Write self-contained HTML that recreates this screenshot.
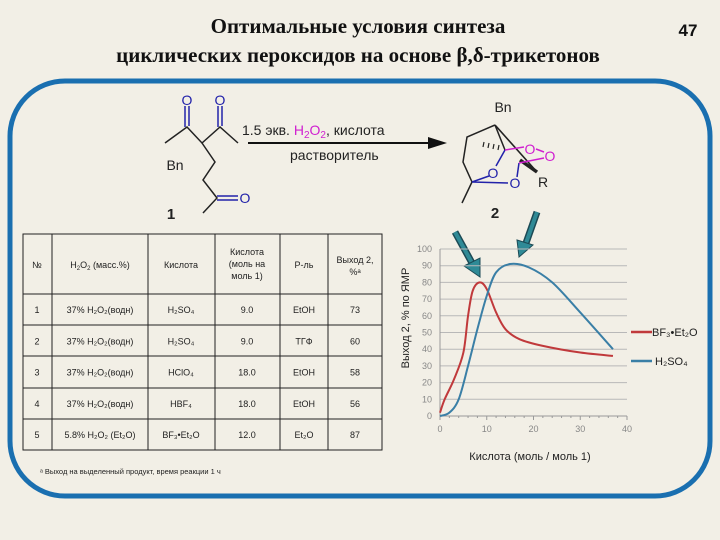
<!DOCTYPE html>
<html><head><meta charset="utf-8"><style>
html,body{margin:0;padding:0;background:#f2efe6;}
svg{display:block;font-family:"Liberation Sans",sans-serif;}
</style></head><body>
<svg id="s" width="720" height="540" viewBox="0 0 720 540">
<rect width="720" height="540" fill="#f2efe6"/>
<g font-family="Liberation Serif,serif" font-weight="bold" font-size="21" fill="#111" text-anchor="middle">
<text x="358" y="33">Оптимальные условия синтеза</text>
<text x="358" y="62">циклических пероксидов на основе β,δ-трикетонов</text>
</g>
<text x="688" y="36" font-family="Liberation Sans,sans-serif" font-weight="bold" font-size="17" text-anchor="middle" fill="#111">47</text>
<rect x="10" y="81" width="700" height="415" rx="55" fill="none" stroke="#1a6fb0" stroke-width="5"/>

<!-- compound 1 -->
<g stroke="#222" stroke-width="1.5" fill="none">
<line x1="185" y1="106" x2="185" y2="127" stroke="#2222aa"/><line x1="189" y1="106" x2="189" y2="126" stroke="#2222aa"/>
<line x1="218" y1="106" x2="218" y2="127" stroke="#2222aa"/><line x1="222" y1="106" x2="222" y2="126" stroke="#2222aa"/>
<polyline points="165,143 187,127 202,143 220,127 238,143"/>
<polyline points="202,143 215,162 203,180 217,198 203,213"/>
<line x1="217" y1="196" x2="238" y2="196" stroke="#2222aa"/><line x1="217" y1="200" x2="238" y2="200" stroke="#2222aa"/>
</g>
<g font-size="14" fill="#2222aa" text-anchor="middle">
<text x="187" y="105">O</text><text x="220" y="105">O</text><text x="245" y="203">O</text>
</g>
<text x="175" y="170" font-size="14" fill="#222" text-anchor="middle">Bn</text>
<text x="171" y="219" font-size="15" font-weight="bold" fill="#222" text-anchor="middle">1</text>

<!-- reaction arrow -->
<line x1="248" y1="143" x2="432" y2="143" stroke="#111" stroke-width="2"/>
<polygon points="447,143 428,137 428,149" fill="#111"/>
<text x="242" y="135" font-size="14" fill="#222">1.5 экв. <tspan fill="#d020d0">H<tspan font-size="10" dy="3">2</tspan><tspan dy="-3">O</tspan><tspan font-size="10" dy="3">2</tspan></tspan><tspan dy="-3">,  кислота</tspan></text>
<text x="290" y="160" font-size="14" fill="#222">растворитель</text>

<!-- compound 2 -->
<g stroke="#222" stroke-width="1.5" fill="none">
<polyline points="495,125 467,137 463,162 472,182 462,203"/>
<line x1="495" y1="125" x2="537" y2="172" stroke-width="1.6"/>
<line x1="520" y1="160" x2="537" y2="172" stroke-width="3.5"/>
<line x1="495" y1="125" x2="505" y2="150"/>
<g stroke-width="1.2"><line x1="484" y1="142" x2="483" y2="147"/><line x1="489" y1="143" x2="488" y2="148"/><line x1="494" y1="144" x2="493" y2="149"/><line x1="499" y1="145" x2="498" y2="150"/></g>
<line x1="505" y1="150" x2="496" y2="166" stroke="#2222aa"/>
<line x1="489" y1="176" x2="472" y2="182" stroke="#2222aa"/>
<line x1="472" y1="182" x2="508" y2="183" stroke="#2222aa"/>
<line x1="517" y1="177" x2="519" y2="163" stroke="#2222aa"/>
<line x1="505" y1="150" x2="524" y2="147" stroke="#d020d0"/>
<line x1="536" y1="149" x2="544" y2="152" stroke="#d020d0"/>
<line x1="519" y1="163" x2="544" y2="158" stroke="#d020d0"/>
</g>
<text x="503" y="112" font-size="14" fill="#222" text-anchor="middle">Bn</text>
<g font-size="14" text-anchor="middle">
<text x="530" y="154" fill="#d020d0">O</text><text x="550" y="161" fill="#d020d0">O</text>
<text x="493" y="178" fill="#2222aa">O</text><text x="515" y="188" fill="#2222aa">O</text>
<text x="543" y="187" fill="#222">R</text>
</g>
<text x="495" y="218" font-size="15" font-weight="bold" fill="#222" text-anchor="middle">2</text>

<!-- table -->
<g font-size="9" fill="#222" text-anchor="middle">
<rect x="23" y="234" width="359" height="216" fill="none" stroke="#222" stroke-width="1"/>
<g stroke="#222" stroke-width="1">
<line x1="52" y1="234" x2="52" y2="450"/><line x1="148" y1="234" x2="148" y2="450"/><line x1="215" y1="234" x2="215" y2="450"/><line x1="280" y1="234" x2="280" y2="450"/><line x1="328" y1="234" x2="328" y2="450"/>
<line x1="23" y1="294" x2="382" y2="294"/><line x1="23" y1="325" x2="382" y2="325"/><line x1="23" y1="356" x2="382" y2="356"/><line x1="23" y1="388" x2="382" y2="388"/><line x1="23" y1="419" x2="382" y2="419"/>
</g>
<text x="37" y="268">№</text><text x="100" y="268">H<tspan font-size="6" dy="2">2</tspan><tspan dy="-2">O</tspan><tspan font-size="6" dy="2">2</tspan><tspan dy="-2"> (масс.%)</tspan></text>
<text x="181" y="268">Кислота</text>
<text x="247" y="255">Кислота</text><text x="247" y="267">(моль на</text><text x="247" y="279">моль 1)</text>
<text x="304" y="268">Р-ль</text><text x="355" y="263">Выход 2,</text><text x="355" y="275">%ᵃ</text>
</g>
<g id="tbody" font-size="9" fill="#222" text-anchor="middle"></g>
<text x="40" y="474" font-size="7.5" fill="#222">ᵃ Выход на выделенный продукт, время реакции 1 ч</text>

<!-- pointer arrows -->
<g>
<line x1="455" y1="232" x2="472" y2="263" stroke="#1c4a55" stroke-width="7"/>
<line x1="455" y1="232" x2="472" y2="263" stroke="#2f8a96" stroke-width="4"/>
<polygon points="480,277 464,266 480,258" fill="#2f8a96" stroke="#1c4a55"/>
<line x1="537" y1="212" x2="526" y2="243" stroke="#1c4a55" stroke-width="7"/>
<line x1="537" y1="212" x2="526" y2="243" stroke="#2f8a96" stroke-width="4"/>
<polygon points="519,257 517,240 533,245" fill="#2f8a96" stroke="#1c4a55"/>
</g>

<g id="chart"></g>
</svg>
<script>
const xs=[0,1,3,5,6,7,8.5,10,12,14,17,22,30,37];
const redY=[2,10,22,38,60,75,80,76,62,52,46,42,38,36];
const blueX=[0,2,4,6,8,10,12,15,19,24,30,37];
const blueY=[0,2,10,30,52,72,86,91,89,80,62,40];
const yTicks=[0,10,20,30,40,50,60,70,80,90,100];
const xTicks=[0,10,20,30,40];
const rows=[["1","37% H₂O₂(водн)","H₂SO₄","9.0","EtOH","73"],["2","37% H₂O₂(водн)","H₂SO₄","9.0","ТГФ","60"],["3","37% H₂O₂(водн)","HClO₄","18.0","EtOH","58"],["4","37% H₂O₂(водн)","HBF₄","18.0","EtOH","56"],["5","5.8% H₂O₂ (Et₂O)","BF₃•Et₂O","12.0","Et₂O","87"]];
const NS="http://www.w3.org/2000/svg";
function mk(t,a,p){const e=document.createElementNS(NS,t);for(const k in a)e.setAttribute(k,a[k]);p.appendChild(e);return e;}
const tb=document.getElementById('tbody');
const cx=[37,100,181,247,304,355];
rows.forEach((r,i)=>{r.forEach((c,j)=>{const t=mk('text',{x:cx[j],y:313+i*31.3},tb);t.textContent=c;

});});
const g=document.getElementById('chart');
const X=v=>440+v*(627-440)/40, Y=v=>416-v*(416-249)/100;
yTicks.forEach(v=>{
 if(v>0){const l=mk('line',{x1:X(0),x2:X(40),y1:Y(v),y2:Y(v),stroke:'#b8b8b8','stroke-width':1},g);
 
 }
 const t=mk('text',{x:432,y:Y(v)+3,'font-size':9,fill:'#888','text-anchor':'end'},g);t.textContent=v;
 
 
});
const ax=mk('line',{x1:X(0),x2:X(40),y1:Y(0),y2:Y(0),stroke:'#999'},g);


const ay=mk('line',{x1:X(0),x2:X(0),y1:Y(0),y2:Y(100),stroke:'#999'},g);


for(let v=0;v<=40;v+=2){mk('line',{x1:X(v),x2:X(v),y1:Y(0),y2:Y(0)+(v%10?2:4),stroke:'#999'},g);}
xTicks.forEach(v=>{const t=mk('text',{x:X(v),y:432,'font-size':9,fill:'#888','text-anchor':'middle'},g);t.textContent=v;
 
 });
function path(xa,ya){const p=xa.map((x,i)=>[X(x),Y(ya[i])]);let d='M'+p[0];
 for(let i=0;i<p.length-1;i++){const p0=p[i-1]||p[i],p1=p[i],p2=p[i+1],p3=p[i+2]||p2;
 d+='C'+(p1[0]+(p2[0]-p0[0])/6)+','+(p1[1]+(p2[1]-p0[1])/6)+' '+(p2[0]-(p3[0]-p1[0])/6)+','+(p2[1]-(p3[1]-p1[1])/6)+' '+p2;}return d;}
const r=mk('path',{d:path(xs,redY),fill:'none',stroke:'#c0393b','stroke-width':2},g);


const b=mk('path',{d:path(blueX,blueY),fill:'none',stroke:'#3a7fa6','stroke-width':2},g);


const l1=mk('line',{x1:631,x2:652,y1:332,y2:332,stroke:'#c0393b','stroke-width':2.5},g);


const t1=mk('text',{x:652,y:336,'font-size':11,fill:'#222'},g);t1.textContent='BF₃•Et₂O';


const l2=mk('line',{x1:631,x2:652,y1:361,y2:361,stroke:'#3a7fa6','stroke-width':2.5},g);


const t2=mk('text',{x:655,y:365,'font-size':11,fill:'#222'},g);t2.textContent='H₂SO₄';


const yt=mk('text',{x:0,y:0,'font-size':11,fill:'#222','text-anchor':'middle',transform:'translate(409,318) rotate(-90)'},g);yt.textContent='Выход 2, % по ЯМР';


const xt=mk('text',{x:530,y:460,'font-size':11,fill:'#222','text-anchor':'middle'},g);xt.textContent='Кислота (моль / моль 1)';


</script>
</body></html>
